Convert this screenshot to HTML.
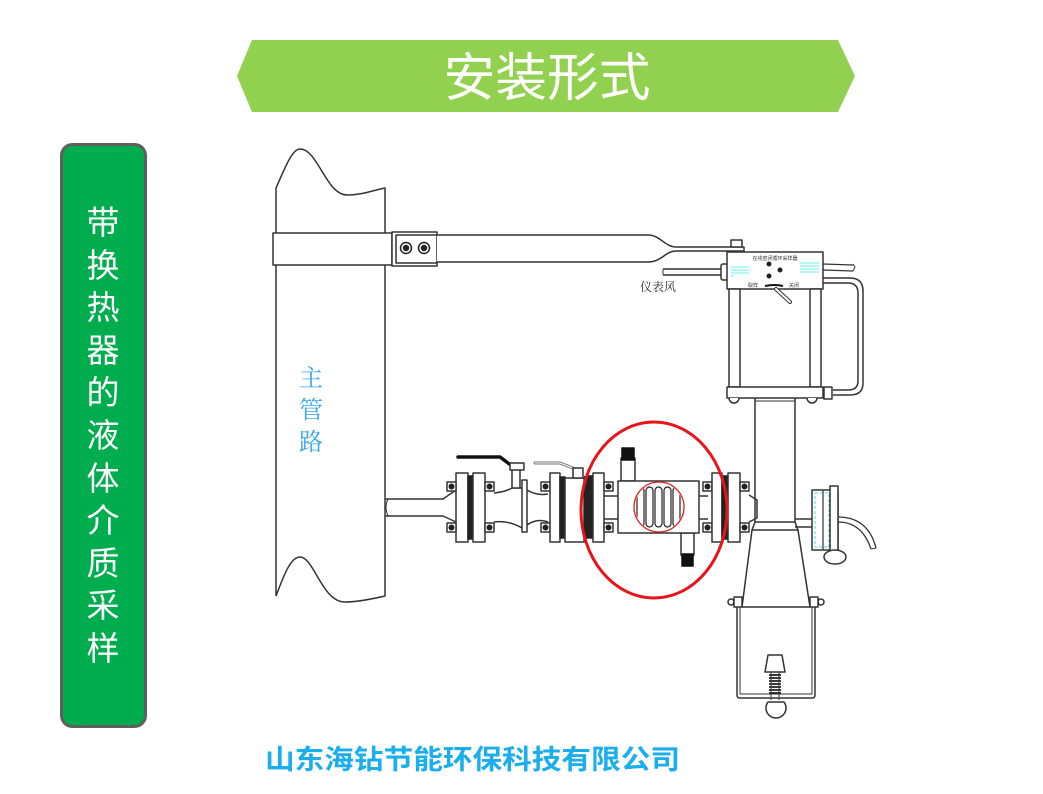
<!DOCTYPE html>
<html><head><meta charset="utf-8"><style>
html,body{margin:0;padding:0;background:#fff;}
svg{display:block;}
.cjk{font-family:"Liberation Sans","Noto Sans CJK SC",sans-serif;}
.serif{font-family:"Liberation Serif","Noto Serif CJK SC",serif;}
</style></head><body>
<svg width="1043" height="794" viewBox="0 0 1043 794" xmlns="http://www.w3.org/2000/svg">
<rect width="1043" height="794" fill="#fff"/>
<!-- Banner -->
<polygon points="237,76 252,40 838,40 855,76 838,112 252,112" fill="#92d050"/>
<text x="547" y="96" class="cjk" font-size="52" fill="#fff" text-anchor="middle" textLength="207" lengthAdjust="spacingAndGlyphs">安装形式</text>

<!-- Left green box -->
<rect x="61.5" y="144.5" width="84" height="582" rx="11" fill="#00ad4e" stroke="#5f5f5f" stroke-width="3"/>
<g class="cjk" font-size="33" fill="#fff" text-anchor="middle">
<text x="103" y="234">带</text><text x="103" y="277">换</text><text x="103" y="319">热</text>
<text x="103" y="362">器</text><text x="103" y="404">的</text><text x="103" y="447">液</text>
<text x="103" y="490">体</text><text x="103" y="532">介</text><text x="103" y="575">质</text>
<text x="103" y="617">采</text><text x="103" y="660">样</text>
</g>

<!-- Bottom company text -->
<text x="265" y="769" class="cjk" font-size="27" font-weight="bold" fill="#1aaeef" textLength="415" lengthAdjust="spacingAndGlyphs">山东海钻节能环保科技有限公司</text>

<g fill="none" stroke="#333" stroke-width="1.5" stroke-linejoin="round">
<!-- Main pipe -->
<path d="M276,596 L276,188 C285,168 292,149 300,149 C318,149 326,195 347,195 C362,195 374,190 385,188 L385,596 C372,599 358,602 345,602 C322,602 314,557 300,557 C290,557 283,578 276,596" fill="#fff"/>
<text x="311" y="386" class="serif" font-size="24" fill="#35a6ee" stroke="none" text-anchor="middle">主</text>
<text x="311" y="418" class="serif" font-size="24" fill="#35a6ee" stroke="none" text-anchor="middle">管</text>
<text x="311" y="450" class="serif" font-size="24" fill="#35a6ee" stroke="none" text-anchor="middle">路</text>

<!-- Clamp band & bracket -->
<rect x="273" y="233" width="119" height="32" fill="#fff"/>
<rect x="392" y="232" width="45" height="34" fill="#fff"/>
<rect x="396" y="235" width="41" height="28" fill="#fff"/>
<!-- bar -->
<path d="M437,235 L648,235 C660,235 665,247 676,247 L744,247 L744,251 L676,251 C665,251 662,262 648,262 L437,262" fill="#fff"/>
<!-- bolts -->
<g stroke="#222" stroke-width="1.5" fill="#fff">
<circle cx="406" cy="248" r="5.5"/><circle cx="406" cy="248" r="2.5" fill="#222"/>
<circle cx="424" cy="248" r="5.5"/><circle cx="424" cy="248" r="2.5" fill="#222"/>
</g>
<!-- top nut -->
<rect x="731" y="240" width="11" height="7" fill="#fff"/>

<!-- air tube -->
<path d="M663,269 L722,269 M663,275 L722,275" stroke-width="1.5"/>
<path d="M663,269 L663,275" stroke-width="1"/>
<rect x="721" y="264" width="7" height="16" rx="2" fill="#fff"/>
<text x="640" y="291" class="serif" font-size="12" fill="#333" stroke="none">仪表风</text>

<!-- controller box -->
<rect x="727" y="252" width="96" height="37" fill="#fff"/>
<text x="775" y="260" class="cjk" font-size="5" fill="#333" stroke="none" text-anchor="middle">在线密闭循环采样器</text>
<g stroke="#3ee" stroke-width="0.8">
<path d="M731,267 h18 M731,270 h18 M731,273 h18 M731,276 h3"/>
<path d="M800,263 h19 M800,266 h19 M800,269 h19 M800,272 h19"/>
</g>
<circle cx="769" cy="264" r="2.5" fill="#222" stroke="none"/>
<circle cx="780" cy="270" r="2.5" fill="#222" stroke="none"/>
<circle cx="769" cy="276" r="2.5" fill="#222" stroke="none"/>
<text x="748" y="287" class="cjk" font-size="5" fill="#333" stroke="none">取样</text>
<text x="789" y="287" class="cjk" font-size="5" fill="#333" stroke="none">关闭</text>
<path d="M765,286 Q775,284 783,286" stroke="#111" stroke-width="2"/>
<path d="M776,289 L790,302" stroke="#333" stroke-width="4" stroke-linecap="round"/>
<path d="M776,289 L790,302" stroke="#fff" stroke-width="2" stroke-linecap="round"/>
<!-- tubes right of box -->
<path d="M823,264 L853,265 M823,270 L853,271" stroke-width="1.2"/>
<path d="M853,264 L855,267 L853,271" stroke-width="1"/>
<!-- U tube -->
<path d="M823,278 L850,278 Q863,278 863,291 L863,383 Q863,395 850,395 L833,395"/>
<path d="M823,283 L848,283 Q858,283 858,293 L858,381 Q858,390 848,390 L833,390"/>
<rect x="824" y="387" width="8" height="12" fill="#fff"/>
<!-- legs -->
<rect x="729" y="289" width="11" height="98" fill="#fff"/>
<rect x="810" y="289" width="11" height="98" fill="#fff"/>
<rect x="727" y="387" width="96" height="11" fill="#fff"/>
<path d="M729,398 a5,5 0 0 0 10,0" fill="#fff"/>
<path d="M807,398 a5,5 0 0 0 10,0" fill="#fff"/>

<!-- vertical pipe -->
<path d="M755,398 L755,522 M795,398 L795,522 M755,522 L795,522"/>
<path d="M755,401 L795,401" stroke-width="1"/>
<!-- cone -->
<path d="M752,530 L798,530 L810,607 L742,607 Z" fill="#fff"/>
<path d="M755,522 L752,530 M795,522 L798,530"/>
<!-- hanger -->
<path d="M737,600 L737,695 Q737,698 740,698 L812,698 Q815,698 815,695 L815,600"/>
<path d="M740,600 L740,694 L812,694 L812,600" stroke-width="1"/>
<g fill="#fff">
<circle cx="731" cy="602" r="3"/><rect x="734" y="597" width="8" height="10"/>
<circle cx="821" cy="602" r="3"/><rect x="810" y="597" width="8" height="10"/>
</g>
<!-- spring & ball -->
<path d="M768,655 L782,655 L785,672 L765,672 Z" fill="#fff"/>
<g stroke="#222" stroke-width="1.8">
<path d="M769,675 h12 M769,678 h12 M769,681 h12 M769,684 h12 M769,687 h12 M769,690 h12 M769,693 h12"/>
</g>
<path d="M771,672 L771,700 M779,672 L779,700" stroke-width="1"/>
<path d="M768,702 L784,702 A10,10 0 1 1 768,702 Z" fill="#fff"/>

<!-- side gauge -->
<path d="M795,519 L812,519 M795,527 L812,527"/>
<rect x="812" y="490" width="26" height="60" fill="#fff"/>
<rect x="815" y="493" width="14" height="54" fill="none" stroke="#4dd" stroke-width="1" stroke-dasharray="3,2"/>
<path d="M823,490 L823,550 M830,490 L830,550" stroke-width="1.2"/>
<rect x="830" y="486" width="8" height="68" fill="#fff"/>
<path d="M838,517 Q868,517 876,548 M838,522 Q862,522 871,549" stroke-width="1.3"/>
<path d="M871,549 L876,548" stroke-width="1"/>
<ellipse cx="835" cy="557" rx="11" ry="7" fill="#fff"/>

<!-- ===== horizontal line ===== -->
<!-- stub -->
<path d="M385,499 L443,499 L456,490 M385,516 L443,516 L456,522"/>
<path d="M388,499 Q384,507 388,516" stroke-width="1"/>
<!-- flange A -->
<rect x="456" y="473" width="12" height="69" fill="#fff"/>
<rect x="468" y="476" width="5" height="63" fill="#222" stroke="#222"/>
<rect x="473" y="473" width="12" height="69" fill="#fff"/>
<!-- bolts A -->
<g fill="#fff">
<rect x="447" y="482" width="9" height="9"/><rect x="447" y="523" width="9" height="9"/>
<rect x="485" y="482" width="9" height="9"/><rect x="485" y="523" width="9" height="9"/>
</g>
<g fill="#222" stroke="none">
<circle cx="451.5" cy="486.5" r="3"/><circle cx="451.5" cy="527.5" r="3"/>
<circle cx="489.5" cy="486.5" r="3"/><circle cx="489.5" cy="527.5" r="3"/>
</g>
<!-- valve body 1 -->
<path d="M494,493 Q505,492 512,488 L522,488 M494,522 Q508,520 522,528"/>
<rect x="512" y="469" width="8" height="19" fill="#fff"/>
<path d="M458,457 L500,457 L512,466" stroke="#111" stroke-width="3.5" stroke-linecap="round"/>
<rect x="510" y="463" width="14" height="7" fill="#fff"/>
<rect x="522" y="480" width="5" height="52" fill="#fff"/>
<path d="M527,490 Q537,496 548,494 M527,525 Q537,518 548,522"/>
<!-- bolts B -->
<g fill="#fff"><rect x="541" y="482" width="9" height="9"/><rect x="541" y="523" width="9" height="9"/></g>
<g fill="#222" stroke="none"><circle cx="545.5" cy="486.5" r="3"/><circle cx="545.5" cy="527.5" r="3"/></g>
<!-- flange C -->
<rect x="550" y="473" width="10" height="69" fill="#fff"/>
<rect x="560" y="477" width="5" height="61" fill="#222" stroke="#222"/>
<rect x="565" y="478" width="19" height="64" fill="#fff"/>
<path d="M535,463 L560,463 L578,470" stroke="#777" stroke-width="3" stroke-linecap="round"/>
<path d="M535,463 L560,463 L578,470" stroke="#fff" stroke-width="1" stroke-linecap="round"/>
<rect x="573" y="468" width="10" height="10" fill="#fff"/>
<rect x="584" y="476" width="3" height="62" fill="#222" stroke="none"/>
<!-- exchanger left flange -->
<rect x="587" y="476" width="6" height="62" fill="#222" stroke="#222"/>
<rect x="593" y="473" width="11" height="69" fill="#fff"/>
<g fill="#fff"><rect x="604" y="482" width="9" height="9"/><rect x="604" y="523" width="9" height="9"/></g>
<g fill="#222" stroke="none"><circle cx="608.5" cy="486.5" r="3"/><circle cx="608.5" cy="527.5" r="3"/></g>
<path d="M604,496 L618,496 M604,519 L618,519"/>
<!-- top nozzle -->
<rect x="621" y="458" width="14" height="23" fill="#fff"/>
<rect x="622" y="448" width="12" height="12" fill="#111" stroke="#111"/>
<!-- bottom nozzle -->
<rect x="681" y="533" width="13" height="22" fill="#fff"/>
<rect x="682" y="554" width="11" height="12" fill="#111" stroke="#111"/>
<!-- body -->
<rect x="618" y="481" width="81" height="52" fill="#fff"/>
<!-- coils -->
<clipPath id="cc"><circle cx="659" cy="507" r="24"/></clipPath>
<g clip-path="url(#cc)" stroke="#222" stroke-width="1.2">
<rect x="637" y="487" width="7" height="40" rx="3.5"/>
<rect x="646" y="487" width="7" height="40" rx="3.5"/>
<rect x="655" y="487" width="7" height="40" rx="3.5"/>
<rect x="664" y="487" width="7" height="40" rx="3.5"/>
<rect x="673" y="487" width="7" height="40" rx="3.5"/>
</g>
<circle cx="659" cy="507" r="25" stroke="#e02020" stroke-width="1.3"/>
<!-- right of body -->
<path d="M699,496 L708,496 M699,519 L708,519"/>
<g fill="#fff"><rect x="703" y="482" width="9" height="9"/><rect x="703" y="523" width="9" height="9"/></g>
<g fill="#222" stroke="none"><circle cx="707.5" cy="486.5" r="3"/><circle cx="707.5" cy="527.5" r="3"/></g>
<rect x="712" y="473" width="10" height="69" fill="#fff"/>
<rect x="722" y="476" width="6" height="63" fill="#222" stroke="#222"/>
<rect x="728" y="473" width="12" height="69" fill="#fff"/>
<g fill="#fff"><rect x="740" y="482" width="9" height="9"/><rect x="740" y="523" width="9" height="9"/></g>
<g fill="#222" stroke="none"><circle cx="744.5" cy="486.5" r="3"/><circle cx="744.5" cy="527.5" r="3"/></g>
<!-- reducer to vertical pipe -->
<path d="M749,495 L757,500 L757,518 L749,522"/>
</g>

<!-- big red ellipse -->
<ellipse cx="654" cy="510" rx="73" ry="88" fill="none" stroke="#e8141b" stroke-width="3"/>
</svg>
</body></html>
